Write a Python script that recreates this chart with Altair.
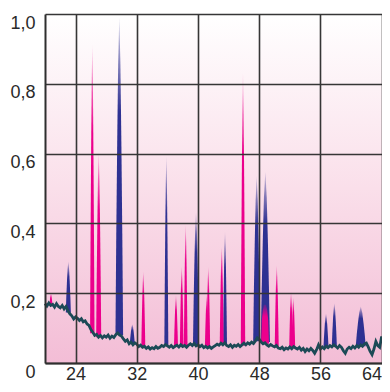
import altair as alt
import pandas as pd

# ---------------- data ----------------
# baseline noise trace, sampled every 0.25 from x = 20
line_start = 20.0
line_step = 0.25
line_vals = [
    0.170, 0.163, 0.172, 0.165,  # 20
    0.168, 0.160, 0.170, 0.162,  # 21
    0.158, 0.165, 0.155, 0.162,  # 22
    0.150, 0.141, 0.135, 0.126,  # 23
    0.132, 0.128, 0.122, 0.127,  # 24
    0.118, 0.121, 0.112, 0.108,  # 25
    0.096, 0.088, 0.079, 0.082,  # 26
    0.074, 0.079, 0.072, 0.078,  # 27
    0.074, 0.080, 0.071, 0.077,  # 28
    0.073, 0.081, 0.086, 0.080,  # 29
    0.077, 0.069, 0.062, 0.066,  # 30
    0.055, 0.060, 0.052, 0.058,  # 31
    0.054, 0.047, 0.051, 0.045,  # 32
    0.048, 0.042, 0.046, 0.040,  # 33
    0.044, 0.041, 0.047, 0.042,  # 34
    0.045, 0.050, 0.047, 0.053,  # 35
    0.049, 0.045, 0.050, 0.044,  # 36
    0.048, 0.051, 0.046, 0.052,  # 37
    0.047, 0.050, 0.045, 0.051,  # 38
    0.055, 0.050, 0.056, 0.049,  # 39
    0.052, 0.047, 0.051, 0.044,  # 40
    0.048, 0.043, 0.047, 0.042,  # 41
    0.046, 0.050, 0.054, 0.051,  # 42
    0.057, 0.052, 0.058, 0.050,  # 43
    0.047, 0.052, 0.045, 0.051,  # 44
    0.048, 0.053, 0.047, 0.052,  # 45
    0.057, 0.052, 0.058, 0.054,  # 46
    0.060, 0.056, 0.063, 0.072,  # 47
    0.068, 0.060, 0.055, 0.058,  # 48
    0.052, 0.048, 0.053, 0.049,  # 49
    0.046, 0.050, 0.043, 0.041,  # 50
    0.045, 0.038, 0.043, 0.040,  # 51
    0.046, 0.041, 0.047, 0.043,  # 52
    0.040, 0.045, 0.037, 0.042,  # 53
    0.033, 0.040, 0.035, 0.042,  # 54
    0.036, 0.028, 0.038, 0.052,  # 55
    0.040, 0.046, 0.041, 0.048,  # 56
    0.044, 0.050, 0.046, 0.052,  # 57
    0.048, 0.043, 0.050, 0.045,  # 58
    0.035, 0.028, 0.040, 0.045,  # 59
    0.041, 0.048, 0.043, 0.050,  # 60
    0.045, 0.052, 0.048, 0.055,  # 61
    0.057, 0.046, 0.033, 0.024,  # 62
    0.040, 0.062, 0.050, 0.045,  # 63
    0.076, 0.055, 0.048, 0.085,  # 64
    0.060,                       # 65
]

# peaks: centre, apex height, half base width, base level, colour group, profile
peak_x = [20.78, 23.05, 26.18, 27.02, 29.71, 31.41, 32.85, 35.86, 37.12, 37.87,
          38.39, 39.74, 41.14, 41.35, 43.10, 43.53, 45.88, 47.67, 48.80, 48.76,
          50.29, 52.16, 52.46, 56.73, 57.82, 61.27]
peak_h = [0.199, 0.291, 0.912, 0.604, 0.991, 0.111, 0.263, 0.593, 0.195, 0.278,
          0.396, 0.433, 0.195, 0.276, 0.333, 0.376, 0.831, 0.536, 0.548, 0.168,
          0.280, 0.205, 0.188, 0.142, 0.171, 0.162]
peak_w = [0.20, 0.33, 0.29, 0.33, 0.50, 0.33, 0.26, 0.26, 0.26, 0.24,
          0.24, 0.40, 0.24, 0.24, 0.26, 0.26, 0.29, 0.46, 0.60, 0.52,
          0.26, 0.24, 0.24, 0.33, 0.33, 0.65]
peak_base = [0.165, 0.145, 0.085, 0.074, 0.080, 0.055, 0.045, 0.050, 0.048, 0.048,
             0.047, 0.050, 0.045, 0.045, 0.052, 0.052, 0.050, 0.062, 0.060, 0.055,
             0.047, 0.044, 0.044, 0.045, 0.048, 0.048]
peak_group = ["m", "n", "m", "m", "n", "n", "m", "n", "m", "m",
              "m", "n", "m", "m", "m", "n", "m", "n", "n", "m",
              "m", "m", "m", "n", "n", "n"]
peak_profile = ["spike"] * 19 + ["round"] + ["spike"] * 6

x_ticks = [24, 32, 40, 48, 56, 64]
y_ticks = [0, 0.2, 0.4, 0.6, 0.8, 1.0]

# ---------------- tables ----------------
line_df = pd.DataFrame({
    "x": [line_start + i * line_step for i in range(len(line_vals))],
    "y": line_vals,
})

# peak outline shapes: (half-width fraction, height fraction) pairs
profiles = {
    "spike": ([-1, -0.8, -0.55, -0.3, 0, 0.3, 0.55, 0.8, 1],
              [0, 0.3, 0.6, 0.85, 1, 0.85, 0.6, 0.3, 0]),
    "round": ([-1, -0.8, -0.55, -0.3, 0, 0.3, 0.55, 0.8, 1],
              [0, 0.6, 0.85, 0.97, 1, 0.97, 0.85, 0.6, 0]),
}
rows = []
for i, (cx, h, w, b, g, p) in enumerate(zip(peak_x, peak_h, peak_w, peak_base,
                                            peak_group, peak_profile)):
    offs, fr = profiles[p]
    for o, f in zip(offs, fr):
        rows.append({"id": i, "g": g, "x": cx + o * w,
                     "y": b + (h - b) * f, "base": b})
peak_df = pd.DataFrame(rows)

W, H = 337, 349
X_DOM = [20, 64.05]

xs = alt.Scale(domain=X_DOM, nice=False, zero=False)
ys = alt.Scale(domain=[0, 1], nice=False)

FONT = "Liberation Sans Narrow, Arial Narrow, Liberation Sans"
x_axis = alt.Axis(values=x_ticks, title=None, grid=True, ticks=False,
                  domain=True, domainColor="#2e2e2e", domainWidth=2,
                  labelPadding=16, labelBaseline="alphabetic",
                  labelFontSize=18, labelColor="#2a2a2a",
                  labelFont=FONT, labelFlush=6,
                  gridColor="#363636", gridWidth=1.6, gridOpacity=1, zindex=1)
y_axis = alt.Axis(values=y_ticks, title=None, grid=True, ticks=False,
                  domain=True, domainColor="#2e2e2e", domainWidth=2,
                  labelPadding=10, labelFontSize=18, labelColor="#2a2a2a",
                  labelBaseline="top", labelFont=FONT,
                  labelExpr="datum.value == 0 ? '0' : replace(format(datum.value, '.1f'), '.', ',')",
                  gridColor="#363636", gridWidth=1.6, gridOpacity=1, zindex=1)

bg_grad = alt.Gradient(
    gradient="linear", x1=0, x2=0, y1=0, y2=1,
    stops=[alt.GradientStop(color="#ffffff", offset=0),
           alt.GradientStop(color="#fadfea", offset=0.5),
           alt.GradientStop(color="#f3bdd6", offset=1)],
)
background = alt.Chart(pd.DataFrame({"k": [0]})).mark_rect(fill=bg_grad).encode(
    x=alt.value(0), x2=alt.value(W), y=alt.value(0), y2=alt.value(H)
)


def peak_grad(rgb):
    r, g, b = rgb
    return alt.Gradient(
        gradient="linear", x1=0, x2=0, y1=1, y2=0,
        stops=[alt.GradientStop(color=f"rgb({r},{g},{b})", offset=0),
               alt.GradientStop(color=f"rgb({r},{g},{b})", offset=0.7),
               alt.GradientStop(color=f"rgba({r},{g},{b},0.2)", offset=1)],
    )


def peak_layer(group, rgb):
    return alt.Chart(peak_df).transform_filter(
        alt.datum.g == group
    ).mark_area(fill=peak_grad(rgb), interpolate="linear").encode(
        x=alt.X("x:Q", scale=xs, axis=x_axis),
        y=alt.Y("y:Q", scale=ys, axis=y_axis),
        y2="base:Q",
        detail="id:N",
    )


navy = peak_layer("n", (46, 49, 146))
magenta = peak_layer("m", (236, 0, 140))

trace = alt.Chart(line_df).mark_line(color="#1c4a56", strokeWidth=2.8).encode(
    x=alt.X("x:Q", scale=xs, axis=x_axis),
    y=alt.Y("y:Q", scale=ys, axis=y_axis),
)

chart = alt.layer(background, navy, magenta, trace).properties(
    width=W, height=H,
    autosize="none",
    padding={"left": 37, "top": 6, "right": 0, "bottom": 20},
).configure_view(
    stroke=None
)

chart.save("out.html", embed_options={"renderer": "svg", "actions": False})
